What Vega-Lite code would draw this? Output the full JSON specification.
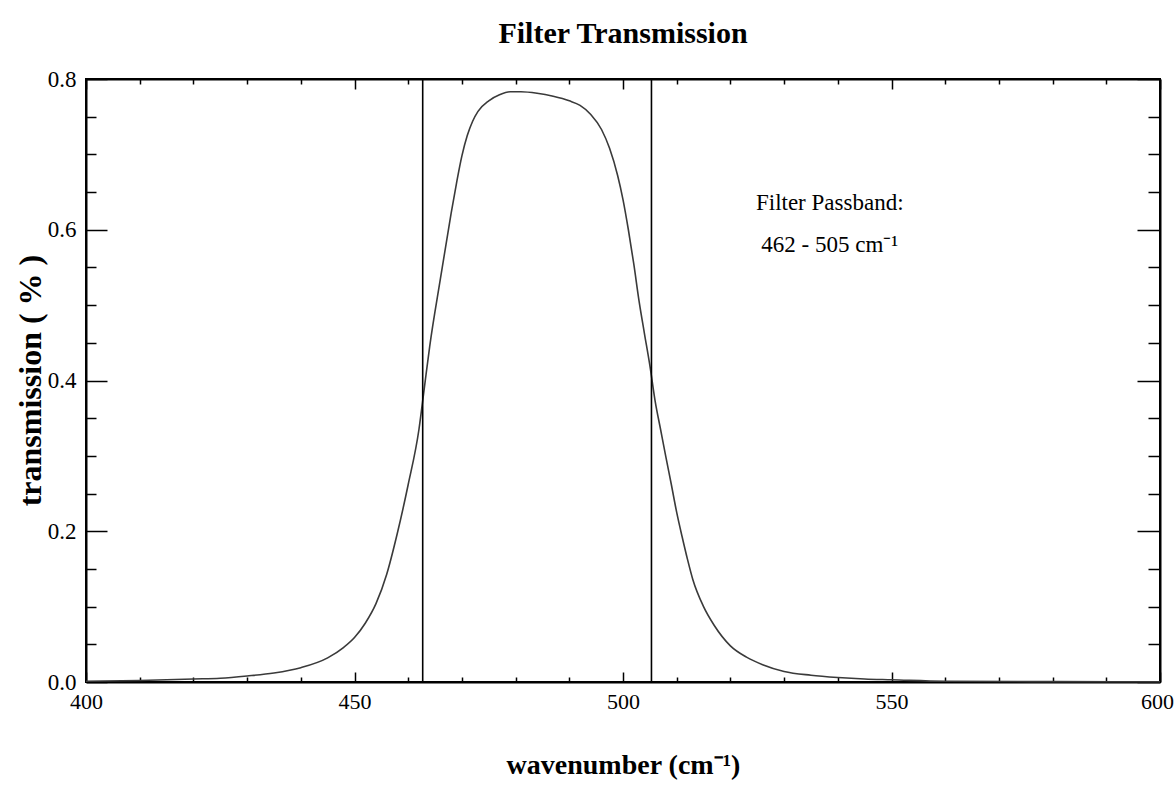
{
  "$schema": "https://vega.github.io/schema/vega-lite/v6.json",
  "width": 1074,
  "height": 603,
  "autosize": {"type": "none"},
  "padding": {"left": 86, "top": 79, "right": 16, "bottom": 111},
  "background": "white",
  "config": {
    "view": {"stroke": "black", "strokeWidth": 2},
    "font": "Liberation Serif"
  },
  "title": {
    "text": "Filter Transmission",
    "font": "Liberation Serif",
    "fontSize": 30,
    "fontWeight": "bold",
    "color": "black",
    "anchor": "middle",
    "offset": 19
  },
  "datasets": {
    "curve": [
      {"w": 400, "T": 0.001}, {"w": 410, "T": 0.002}, {"w": 420, "T": 0.004},
      {"w": 425, "T": 0.005}, {"w": 430, "T": 0.008}, {"w": 435, "T": 0.012},
      {"w": 440, "T": 0.019}, {"w": 445, "T": 0.032}, {"w": 448, "T": 0.046},
      {"w": 450, "T": 0.059}, {"w": 452, "T": 0.078}, {"w": 454, "T": 0.104},
      {"w": 456, "T": 0.143}, {"w": 458, "T": 0.198}, {"w": 460, "T": 0.262},
      {"w": 462, "T": 0.335}, {"w": 463, "T": 0.39}, {"w": 464, "T": 0.445},
      {"w": 466, "T": 0.535}, {"w": 468, "T": 0.622}, {"w": 469, "T": 0.662},
      {"w": 470, "T": 0.698}, {"w": 471, "T": 0.725}, {"w": 472, "T": 0.744},
      {"w": 473, "T": 0.757}, {"w": 475, "T": 0.771}, {"w": 477, "T": 0.779},
      {"w": 479, "T": 0.783}, {"w": 481, "T": 0.783}, {"w": 484, "T": 0.781},
      {"w": 487, "T": 0.777}, {"w": 490, "T": 0.771}, {"w": 492, "T": 0.765},
      {"w": 494, "T": 0.753}, {"w": 496, "T": 0.733}, {"w": 497.5, "T": 0.708},
      {"w": 499, "T": 0.672}, {"w": 500, "T": 0.64}, {"w": 501, "T": 0.6},
      {"w": 502, "T": 0.555}, {"w": 503, "T": 0.505}, {"w": 504, "T": 0.462},
      {"w": 505, "T": 0.42}, {"w": 506, "T": 0.372}, {"w": 507, "T": 0.335},
      {"w": 508, "T": 0.298}, {"w": 509, "T": 0.262}, {"w": 510, "T": 0.225},
      {"w": 511, "T": 0.193}, {"w": 512, "T": 0.163}, {"w": 513, "T": 0.136},
      {"w": 515, "T": 0.1}, {"w": 517, "T": 0.075}, {"w": 520, "T": 0.048},
      {"w": 523, "T": 0.033}, {"w": 526, "T": 0.023}, {"w": 530, "T": 0.014},
      {"w": 535, "T": 0.009}, {"w": 540, "T": 0.006}, {"w": 545, "T": 0.004},
      {"w": 550, "T": 0.003}, {"w": 560, "T": 0.001}, {"w": 580, "T": 0.0005},
      {"w": 600, "T": 0.0003}
    ],
    "bands": [{"w": 462.7}, {"w": 505.3}],
    "notes": [
      {"w": 538.5, "T": 0.635, "label": "Filter Passband:"},
      {"w": 538.5, "T": 0.58, "label": "462 - 505 cm⁻¹"}
    ]
  },
  "resolve": {"axis": {"x": "independent", "y": "independent"}},
  "layer": [
    {
      "data": {"name": "curve"},
      "mark": {"type": "line", "color": "#3a3a3a", "strokeWidth": 1.6, "interpolate": "monotone"},
      "encoding": {
        "x": {
          "field": "w", "type": "quantitative",
          "scale": {"domain": [400, 600], "nice": false, "zero": false},
          "axis": {
            "orient": "bottom",
            "values": [400, 450, 500, 550, 600],
            "format": "d",
            "labelOverlap": false, "labelFlush": false, "labelBound": false,
            "grid": false,
            "domainColor": "black", "domainWidth": 2,
            "tickColor": "black", "tickWidth": 1.5, "tickSize": -10,
            "labelPadding": 19,
            "labelOffset": {"condition": {"test": "datum.value == 600", "value": -3}, "value": 0},
            "labelFont": "Liberation Serif", "labelFontSize": 22, "labelColor": "black",
            "title": "wavenumber  (cm⁻¹)",
            "titleFont": "Liberation Serif", "titleFontSize": 28, "titleFontWeight": "bold",
            "titleColor": "black", "titlePadding": 39
          }
        },
        "y": {
          "field": "T", "type": "quantitative",
          "scale": {"domain": [0, 0.8], "nice": false, "zero": true},
          "axis": {
            "orient": "left",
            "values": [0, 0.2, 0.4, 0.6, 0.8],
            "format": ".1f",
            "labelOverlap": false, "labelFlush": false, "labelBound": false,
            "grid": false,
            "domainColor": "black", "domainWidth": 2,
            "tickColor": "black", "tickWidth": 1.5, "tickSize": -21,
            "labelPadding": 31,
            "labelFont": "Liberation Serif", "labelFontSize": 23, "labelColor": "black",
            "title": "transmission  ( % )",
            "titleFont": "Liberation Serif", "titleFontSize": 32, "titleFontWeight": "bold",
            "titleColor": "black",
            "titleX": -56, "titleY": 301, "titleAngle": -90,
            "titleAlign": "center", "titleBaseline": "middle"
          }
        }
      }
    },
    {
      "data": {"name": "curve"},
      "mark": {"type": "line", "opacity": 0},
      "encoding": {
        "x": {
          "field": "w", "type": "quantitative",
          "axis": {
            "orient": "bottom",
            "values": [410, 420, 430, 440, 460, 470, 480, 490, 510, 520, 530, 540, 560, 570, 580, 590],
            "labels": false, "grid": false, "title": null, "domain": false,
            "tickColor": "black", "tickWidth": 1.5, "tickSize": -5
          }
        },
        "y": {
          "field": "T", "type": "quantitative",
          "axis": {
            "orient": "left",
            "values": [0.05, 0.1, 0.15, 0.25, 0.3, 0.35, 0.45, 0.5, 0.55, 0.65, 0.7, 0.75],
            "labels": false, "grid": false, "title": null, "domain": false,
            "tickColor": "black", "tickWidth": 1.5, "tickSize": -10
          }
        }
      }
    },
    {
      "data": {"name": "notes"},
      "mark": {"type": "text", "font": "Liberation Serif", "fontSize": 23, "color": "black", "align": "center", "baseline": "middle"},
      "encoding": {
        "x": {
          "field": "w", "type": "quantitative",
          "axis": {
            "orient": "top",
            "values": [400, 450, 500, 550, 600],
            "labels": false, "grid": false, "title": null,
            "domainColor": "black", "domainWidth": 2,
            "tickColor": "black", "tickWidth": 1.5, "tickSize": -10
          }
        },
        "y": {
          "field": "T", "type": "quantitative",
          "axis": {
            "orient": "right",
            "values": [0, 0.2, 0.4, 0.6, 0.8],
            "labels": false, "grid": false, "title": null,
            "domainColor": "black", "domainWidth": 2,
            "tickColor": "black", "tickWidth": 1.5, "tickSize": -23
          }
        },
        "text": {"field": "label"}
      }
    },
    {
      "data": {"name": "curve"},
      "mark": {"type": "line", "opacity": 0},
      "encoding": {
        "x": {
          "field": "w", "type": "quantitative",
          "axis": {
            "orient": "top",
            "values": [410, 420, 430, 440, 460, 470, 480, 490, 510, 520, 530, 540, 560, 570, 580, 590],
            "labels": false, "grid": false, "title": null, "domain": false,
            "tickColor": "black", "tickWidth": 1.5, "tickSize": -5
          }
        },
        "y": {
          "field": "T", "type": "quantitative",
          "axis": {
            "orient": "right",
            "values": [0.05, 0.1, 0.15, 0.25, 0.3, 0.35, 0.45, 0.5, 0.55, 0.65, 0.7, 0.75],
            "labels": false, "grid": false, "title": null, "domain": false,
            "tickColor": "black", "tickWidth": 1.5, "tickSize": -12
          }
        }
      }
    },
    {
      "data": {"name": "bands"},
      "mark": {"type": "rule", "color": "black", "strokeWidth": 1.6},
      "encoding": {
        "x": {"field": "w", "type": "quantitative", "axis": null}
      }
    }
  ]
}
